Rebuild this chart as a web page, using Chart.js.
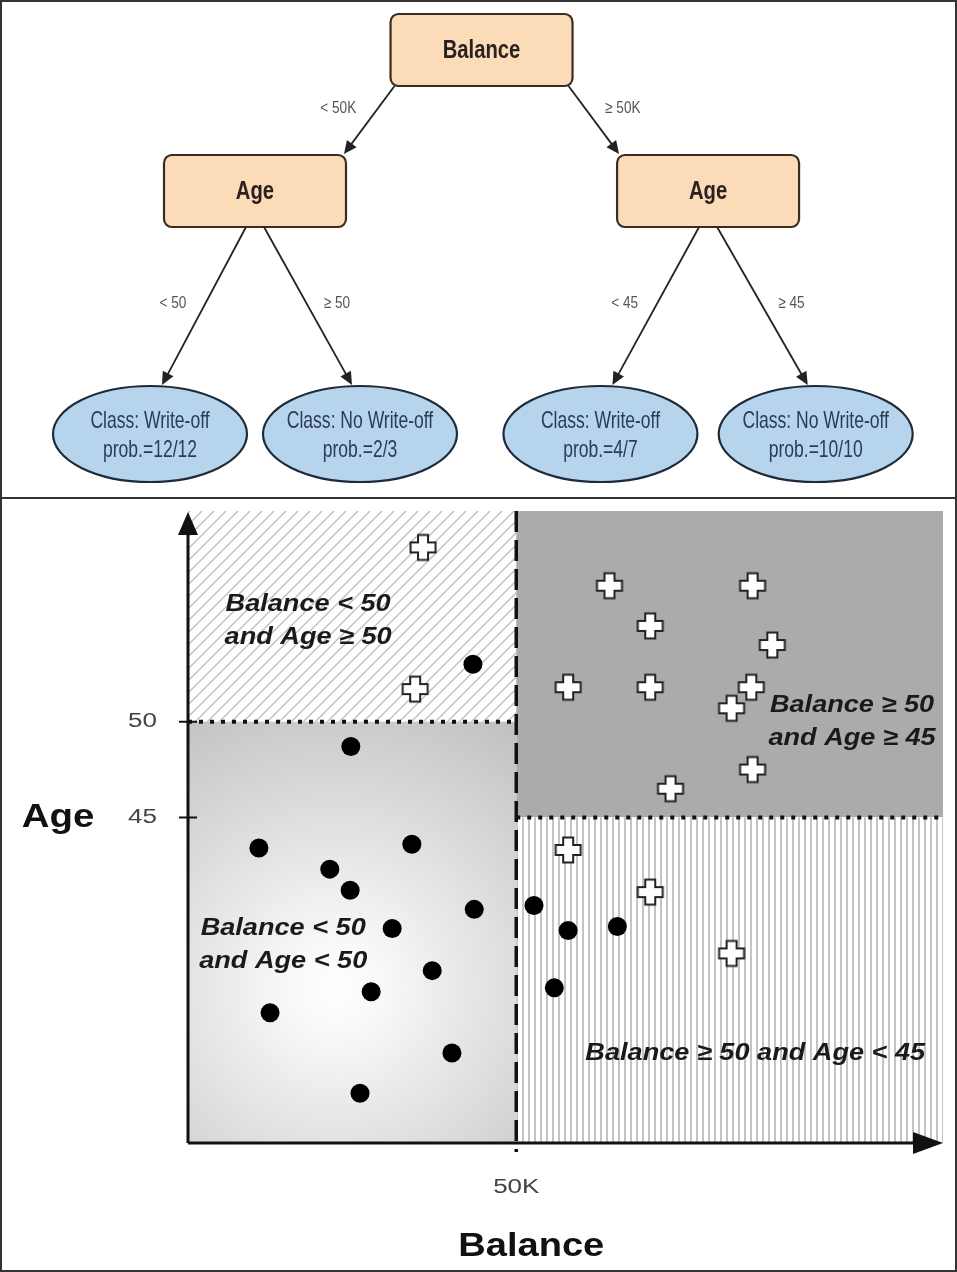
<!DOCTYPE html>
<html>
<head>
<meta charset="utf-8">
<title>Classification tree and instance space partition</title>
<script src="https://cdn.jsdelivr.net/npm/chart.js@4.4.1/dist/chart.umd.min.js"></script>
<style>
  html, body { margin: 0; padding: 0; background: #fff; }
  #frame { position: relative; width: 957px; height: 1272px; overflow: hidden; background: #fff; }
  #tree-chart { position: absolute; left: 0; top: 0; }
  #space-chart { position: absolute; left: 0; top: 497px; }
  #divider { position: absolute; left: 0; top: 497px; width: 957px; height: 2px; background: #333; }
  #border { position: absolute; left: 0; top: 0; width: 957px; height: 1272px; box-sizing: border-box; border: 2px solid #333; pointer-events: none; }
</style>
</head>
<body>
<div id="frame">
  <canvas id="tree-chart" width="957" height="497"></canvas>
  <canvas id="space-chart" width="957" height="775"></canvas>
  <div id="divider"></div>
  <div id="border"></div>
</div>
<script>
// ---- tree data ----
const treeSplitNames = ['Balance', 'Age', 'Age'];          // root, left child, right child
const treeEdgeLabels = ['< 50K', '≥ 50K', '< 50', '≥ 50', '< 45', '≥ 45'];
const leafClasses = ['Write-off', 'No Write-off', 'Write-off', 'No Write-off'];
const leafProbs = ['12/12', '2/3', '4/7', '10/10'];

// ---- scatter data (balance in K, age in years) ----
const writeOffBalance = [43.4, 24.8, 10.8, 34.1, 21.6, 24.7, 43.6, 31.1, 37.2, 27.9, 12.5, 40.2, 26.2, 52.7, 57.9, 65.4, 55.8];
const writeOffAge = [53.0, 48.7, 43.4, 43.6, 42.3, 41.2, 40.2, 39.2, 37.0, 35.9, 34.8, 32.7, 30.6, 40.4, 39.1, 39.3, 36.1];
const noWriteOffBalance = [35.8, 34.6, 64.2, 86.0, 70.4, 89.0, 57.9, 70.4, 85.8, 82.8, 86.0, 73.5, 57.9, 70.4, 82.8];
const noWriteOffAge = [59.1, 51.7, 57.1, 57.1, 55.0, 54.0, 51.8, 51.8, 51.8, 50.7, 47.5, 46.5, 43.3, 41.1, 37.9];

const balanceSplit = 50;
const ageSplitLeft = 50;
const ageSplitRight = 45;
const ageTicks = [50, 45];
const balanceTicks = [50];
const balanceTickLabels = ['50K'];

const regionLabels = [
    ['Balance < 50', 'and Age ≥ 50'],
    ['Balance ≥ 50', 'and Age ≥ 45'],
    ['Balance < 50', 'and Age < 50'],
    ['Balance ≥ 50 and Age < 45']
];

const SANS = '"Liberation Sans", Arial, sans-serif';

// text squeezed or stretched horizontally (the source uses a condensed face on top)
function drawText(ctx, text, x, y, sx) {
    ctx.save();
    ctx.translate(x, y);
    ctx.scale(sx, 1);
    ctx.fillText(text, 0, 0);
    ctx.restore();
}

// ---------------- tree ----------------
// leaves sit in slots along x, inner nodes centred over their children
const leafSlots = [0, 1, 2.145, 3.17];
const levelY = [50, 191, 434];
const leftNodeX = (leafSlots[0] + leafSlots[1]) / 2;
const rightNodeX = (leafSlots[2] + leafSlots[3]) / 2;
const rootX = (leftNodeX + rightNodeX) / 2;

const treePoints = [
    {x: rootX, y: levelY[0]},
    {x: leftNodeX, y: levelY[1]},
    {x: rightNodeX, y: levelY[1]},
    {x: leafSlots[0], y: levelY[2]},
    {x: leafSlots[1], y: levelY[2]},
    {x: leafSlots[2], y: levelY[2]},
    {x: leafSlots[3], y: levelY[2]}
];

function arrow(ctx, x1, y1, x2, y2) {
    const ang = Math.atan2(y2 - y1, x2 - x1);
    const len = 13, hw = 6;
    ctx.beginPath();
    ctx.moveTo(x1, y1);
    ctx.lineTo(x2 - Math.cos(ang) * len * 0.8, y2 - Math.sin(ang) * len * 0.8);
    ctx.stroke();
    ctx.beginPath();
    ctx.moveTo(x2, y2);
    ctx.lineTo(x2 - Math.cos(ang) * len - Math.sin(ang) * hw, y2 - Math.sin(ang) * len + Math.cos(ang) * hw);
    ctx.lineTo(x2 - Math.cos(ang) * len + Math.sin(ang) * hw, y2 - Math.sin(ang) * len - Math.cos(ang) * hw);
    ctx.closePath();
    ctx.fill();
}

function roundRect(ctx, x, y, w, h, r) {
    ctx.beginPath();
    ctx.moveTo(x + r, y);
    ctx.arcTo(x + w, y, x + w, y + h, r);
    ctx.arcTo(x + w, y + h, x, y + h, r);
    ctx.arcTo(x, y + h, x, y, r);
    ctx.arcTo(x, y, x + w, y, r);
    ctx.closePath();
}

const treePlugin = {
    id: 'treeDraw',
    afterDatasetsDraw(chart) {
        const ctx = chart.ctx;
        const pts = chart.getDatasetMeta(0).data.map(p => ({x: p.x, y: p.y}));
        const boxW = 182, boxH = 72, rx = 97, ry = 48;
        ctx.save();

        // edges
        ctx.strokeStyle = '#222';
        ctx.fillStyle = '#222';
        ctx.lineWidth = 1.8;
        const edges = [];
        const root = pts[0];
        edges.push([root.x - 87, root.y + boxH / 2, pts[1].x + 89, pts[1].y - boxH / 2 - 1, -1, -12]);
        edges.push([root.x + 87, root.y + boxH / 2, pts[2].x - 89, pts[2].y - boxH / 2 - 1, 1, -12]);
        [1, 2].forEach((n, i) => {
            const p = pts[n];
            const l = pts[3 + i * 2], r = pts[4 + i * 2];
            edges.push([p.x - 9, p.y + boxH / 2, l.x + 12, l.y - ry - 1, -1, -3]);
            edges.push([p.x + 9, p.y + boxH / 2, r.x - 8, r.y - ry - 1, 1, -3]);
        });
        edges.forEach(e => arrow(ctx, e[0], e[1], e[2], e[3]));

        // edge labels
        ctx.fillStyle = '#555';
        ctx.font = '17px ' + SANS;
        ctx.textAlign = 'center';
        ctx.textBaseline = 'middle';
        edges.forEach((e, i) => {
            const mx = (e[0] + e[2]) / 2, my = (e[1] + e[3]) / 2;
            drawText(ctx, treeEdgeLabels[i], mx + (e[4] < 0 ? -31 : 29), my + e[5], 0.8);
        });

        // split boxes
        for (let i = 0; i < 3; i++) {
            const p = pts[i];
            roundRect(ctx, p.x - boxW / 2, p.y - boxH / 2, boxW, boxH, 8);
            ctx.fillStyle = '#fcdcb8';
            ctx.fill();
            ctx.strokeStyle = '#3a2c20';
            ctx.lineWidth = 2.2;
            ctx.stroke();
            ctx.fillStyle = '#2a2020';
            ctx.font = 'bold 25px ' + SANS;
            drawText(ctx, treeSplitNames[i], p.x, p.y + 1, 0.81);
        }

        // leaves
        for (let i = 0; i < 4; i++) {
            const p = pts[3 + i];
            ctx.beginPath();
            ctx.ellipse(p.x, p.y, rx, ry, 0, 0, Math.PI * 2);
            ctx.fillStyle = '#b6d4ec';
            ctx.fill();
            ctx.strokeStyle = '#1e2a3a';
            ctx.lineWidth = 2.2;
            ctx.stroke();
            ctx.fillStyle = '#2d3b58';
            ctx.font = '24px ' + SANS;
            drawText(ctx, 'Class: ' + leafClasses[i], p.x, p.y - 13, 0.73);
            drawText(ctx, 'prob.=' + leafProbs[i], p.x, p.y + 16, 0.73);
        }
        ctx.restore();
    }
};

new Chart(document.getElementById('tree-chart'), {
    type: 'scatter',
    data: {
        datasets: [{data: treePoints, pointRadius: 0}]
    },
    options: {
        responsive: false,
        animation: false,
        devicePixelRatio: 1,
        events: [],
        layout: {padding: 0},
        plugins: {legend: {display: false}, tooltip: {enabled: false}},
        scales: {
            x: {display: false, min: -150 / 210, max: -150 / 210 + 957 / 210},
            y: {display: false, min: 0, max: 497, reverse: true}
        }
    },
    plugins: [treePlugin]
});

// ---------------- instance space ----------------
function plusGlyph() {
    const c = document.createElement('canvas');
    c.width = 30; c.height = 30;
    const g = c.getContext('2d');
    const m = 15, a = 5, l = 12.5;
    g.beginPath();
    g.moveTo(m - a, m - l); g.lineTo(m + a, m - l); g.lineTo(m + a, m - a);
    g.lineTo(m + l, m - a); g.lineTo(m + l, m + a); g.lineTo(m + a, m + a);
    g.lineTo(m + a, m + l); g.lineTo(m - a, m + l); g.lineTo(m - a, m + a);
    g.lineTo(m - l, m + a); g.lineTo(m - l, m - a); g.lineTo(m - a, m - a);
    g.closePath();
    g.fillStyle = '#fff';
    g.fill();
    g.strokeStyle = '#222';
    g.lineWidth = 2;
    g.stroke();
    return c;
}

function hatchPattern(ctx) {
    const s = 12;
    const c = document.createElement('canvas');
    c.width = s; c.height = s;
    const g = c.getContext('2d');
    g.fillStyle = '#fff';
    g.fillRect(0, 0, s, s);
    g.strokeStyle = '#bcbcbc';
    g.lineWidth = 1.3;
    g.beginPath();
    g.moveTo(-1, s + 1); g.lineTo(s + 1, -1);
    g.moveTo(-1, 1); g.lineTo(1, -1);
    g.moveTo(s - 1, s + 1); g.lineTo(s + 1, s - 1);
    g.stroke();
    return ctx.createPattern(c, 'repeat');
}

function stripePattern(ctx) {
    const c = document.createElement('canvas');
    c.width = 6; c.height = 4;
    const g = c.getContext('2d');
    g.fillStyle = '#fff';
    g.fillRect(0, 0, 6, 4);
    g.fillStyle = '#c4c4c4';
    g.fillRect(0, 0, 2, 4);
    return ctx.createPattern(c, 'repeat');
}

const partitionPlugin = {
    id: 'partition',
    beforeDatasetsDraw(chart) {
        const {ctx, chartArea: a, scales: {x, y}} = chart;
        const xs = x.getPixelForValue(balanceSplit);
        const yl = y.getPixelForValue(ageSplitLeft);
        const yr = y.getPixelForValue(ageSplitRight);
        ctx.save();

        // Balance < 50, Age >= 50 : diagonal hatching
        ctx.fillStyle = hatchPattern(ctx);
        ctx.fillRect(a.left, a.top, xs - a.left, yl - a.top);

        // Balance >= 50, Age >= 45 : solid grey
        ctx.fillStyle = '#ababab';
        ctx.fillRect(xs, a.top, a.right - xs, yr - a.top);

        // Balance < 50, Age < 50 : radial shading
        const cx = a.left + (xs - a.left) * 0.45, cy = yl + (a.bottom - yl) * 0.63;
        const grad = ctx.createRadialGradient(cx, cy, 0, cx, cy, 320);
        grad.addColorStop(0, '#ffffff');
        grad.addColorStop(0.15, '#f8f8f8');
        grad.addColorStop(1, '#c0c0c0');
        ctx.fillStyle = grad;
        ctx.fillRect(a.left, yl, xs - a.left, a.bottom - yl);

        // Balance >= 50, Age < 45 : vertical stripes
        ctx.fillStyle = stripePattern(ctx);
        ctx.fillRect(xs, yr, a.right - xs, a.bottom - yr);

        // split boundaries
        ctx.strokeStyle = '#111';
        ctx.lineWidth = 4;
        ctx.setLineDash([4, 7]);
        ctx.beginPath();
        ctx.moveTo(a.left, yl); ctx.lineTo(xs, yl);
        ctx.moveTo(xs, yr); ctx.lineTo(a.right, yr);
        ctx.stroke();
        ctx.lineWidth = 3.5;
        ctx.setLineDash([21, 8]);
        ctx.beginPath();
        ctx.moveTo(xs, a.top); ctx.lineTo(xs, a.bottom + 9);
        ctx.stroke();
        ctx.setLineDash([]);

        // axes with arrow heads
        ctx.strokeStyle = '#111';
        ctx.fillStyle = '#111';
        ctx.lineWidth = 3;
        ctx.beginPath();
        ctx.moveTo(a.left, a.bottom); ctx.lineTo(a.left, a.top + 20);
        ctx.moveTo(a.left, a.bottom); ctx.lineTo(a.right - 26, a.bottom);
        ctx.stroke();
        ctx.beginPath();
        ctx.moveTo(a.left, a.top + 1);
        ctx.lineTo(a.left - 10, a.top + 24);
        ctx.lineTo(a.left + 10, a.top + 24);
        ctx.closePath();
        ctx.fill();
        ctx.beginPath();
        ctx.moveTo(a.right, a.bottom);
        ctx.lineTo(a.right - 30, a.bottom - 11);
        ctx.lineTo(a.right - 30, a.bottom + 11);
        ctx.closePath();
        ctx.fill();

        // y ticks
        ctx.lineWidth = 2;
        ctx.beginPath();
        ageTicks.forEach(v => {
            const py = y.getPixelForValue(v);
            ctx.moveTo(a.left - 9, py); ctx.lineTo(a.left + 9, py);
        });
        ctx.stroke();

        ctx.fillStyle = '#444';
        ctx.font = '20px ' + SANS;
        ctx.textAlign = 'right';
        ctx.textBaseline = 'middle';
        ageTicks.forEach(v => drawText(ctx, String(v), a.left - 31, y.getPixelForValue(v), 1.3));
        ctx.textAlign = 'center';
        balanceTicks.forEach((v, i) => drawText(ctx, balanceTickLabels[i], x.getPixelForValue(v), a.bottom + 44, 1.3));

        // axis titles
        ctx.fillStyle = '#111';
        ctx.font = 'bold 34px ' + SANS;
        drawText(ctx, 'Age', 58, y.getPixelForValue(ageSplitRight), 1.13);
        drawText(ctx, 'Balance', xs + 15, a.bottom + 104, 1.12);
        ctx.restore();
    },
    afterDatasetsDraw(chart) {
        const {ctx, chartArea: a, scales: {x, y}} = chart;
        const xs = x.getPixelForValue(balanceSplit);
        const yl = y.getPixelForValue(ageSplitLeft);
        ctx.save();
        ctx.fillStyle = '#1a1a1a';
        ctx.font = 'italic bold 24px ' + SANS;
        ctx.textAlign = 'center';
        ctx.textBaseline = 'middle';
        const anchors = [
            [(a.left + xs) / 2 - 44, a.top + (yl - a.top) * 0.52],
            [a.right - 91, yl],
            [a.left + (xs - a.left) * 0.29, yl + (a.bottom - yl) * 0.53],
            [xs + (a.right - xs) * 0.56, a.bottom - 90]
        ];
        regionLabels.forEach((lines, i) => {
            const [cx, cy] = anchors[i];
            lines.forEach((t, j) => drawText(ctx, t, cx, cy + (j - (lines.length - 1) / 2) * 33, 1.13));
        });
        ctx.restore();
    }
};

const toPoints = (xs, ys) => xs.map((v, i) => ({x: v, y: ys[i]}));

new Chart(document.getElementById('space-chart'), {
    type: 'scatter',
    data: {
        datasets: [
            {
                label: 'Write-off',
                data: toPoints(writeOffBalance, writeOffAge),
                pointStyle: 'circle',
                pointRadius: 9.5,
                backgroundColor: '#000',
                borderColor: '#000',
                borderWidth: 0
            },
            {
                label: 'No write-off',
                data: toPoints(noWriteOffBalance, noWriteOffAge),
                pointStyle: plusGlyph(),
                pointRadius: 13
            }
        ]
    },
    options: {
        responsive: false,
        animation: false,
        devicePixelRatio: 1,
        events: [],
        layout: {padding: {left: 188, right: 14, top: 11, bottom: 129}},
        plugins: {legend: {display: false}, tooltip: {enabled: false}},
        scales: {
            x: {display: false, min: 0, max: 115},
            y: {display: false, min: 28, max: 61}
        }
    },
    plugins: [partitionPlugin]
});
</script>
</body>
</html>
